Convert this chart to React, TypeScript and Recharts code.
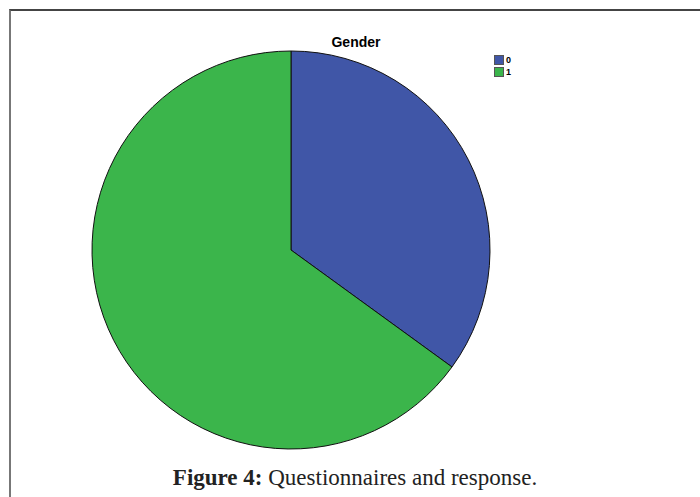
import React from 'react';
import { PieChart, Pie, Cell, Legend } from 'recharts';

const categories = ['0', '1'];
const counts = [35, 65];
const colors = ['#4056a7', '#3bb54b'];

const data = categories.map((name, i) => ({ name, value: counts[i], color: colors[i] }));

function GenderLegend() {
  return (
    <div style={{ fontFamily: 'Liberation Sans, Arial, sans-serif', fontWeight: 700, fontSize: 9 }}>
      {data.map((d) => (
        <div key={d.name} style={{ display: 'flex', alignItems: 'center', height: 12 }}>
          <span
            style={{
              width: 8,
              height: 8,
              background: d.color,
              border: '1px solid #555',
              marginRight: 2,
              display: 'inline-block',
            }}
          />
          <span>{d.name}</span>
        </div>
      ))}
    </div>
  );
}

export default function App() {
  return (
    <div style={{ position: 'absolute', left: 0, top: 0, width: 700, height: 497, background: '#fff', overflow: 'hidden' }}>
      <div
        style={{
          position: 'absolute',
          left: 9,
          top: 9,
          width: 720,
          height: 520,
          borderTop: '2px solid #444',
          borderLeft: '2px solid #777',
        }}
      />
      <div
        style={{
          position: 'absolute',
          left: 300,
          width: 112,
          top: 34,
          textAlign: 'center',
          fontFamily: 'Liberation Sans, Arial, sans-serif',
          fontWeight: 700,
          fontSize: 14,
        }}
      >
        Gender
      </div>
      <div style={{ position: 'absolute', left: 0, top: 0 }}>
        <PieChart width={700} height={497}>
          <Pie
            data={data}
            dataKey="value"
            nameKey="name"
            cx={286}
            cy={245}
            outerRadius={199}
            startAngle={90}
            endAngle={-270}
            stroke="#111"
            strokeWidth={1}
            isAnimationActive={false}
          >
            {data.map((d) => (
              <Cell key={d.name} fill={d.color} />
            ))}
          </Pie>
          <Legend
            layout="vertical"
            content={() => <GenderLegend />}
            wrapperStyle={{ position: 'absolute', left: 494, top: 54, width: 30 }}
          />
        </PieChart>
      </div>
      <div
        style={{
          position: 'absolute',
          left: 0,
          width: 710,
          top: 465,
          textAlign: 'center',
          fontFamily: 'Liberation Serif, Times New Roman, serif',
          fontSize: 23,
          color: '#222',
        }}
      >
        <b>Figure 4:</b> Questionnaires and response.
      </div>
    </div>
  );
}
